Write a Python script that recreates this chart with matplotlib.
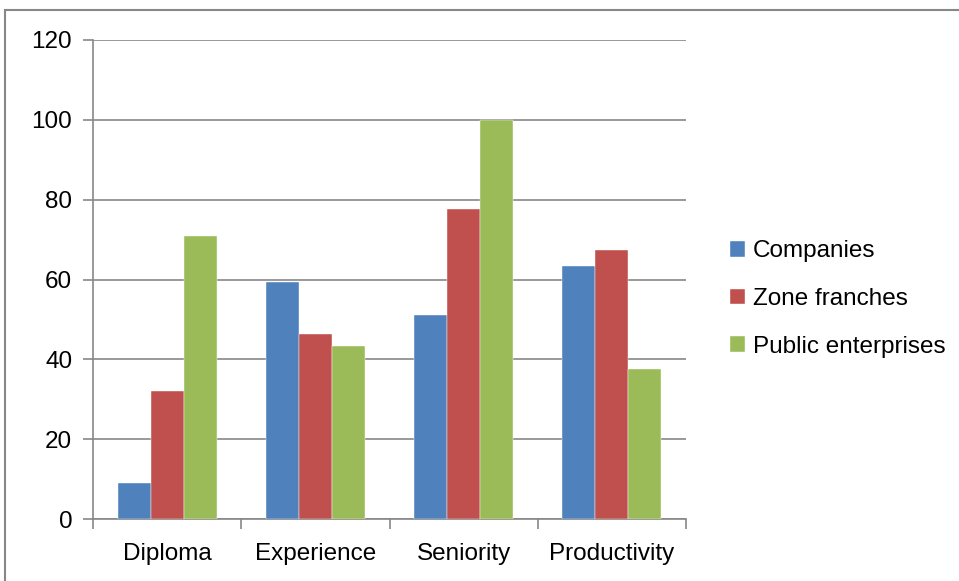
import matplotlib
matplotlib.use("Agg")
import matplotlib.pyplot as plt
import numpy as np
from matplotlib.patches import Rectangle

categories = ["Diploma", "Experience", "Seniority", "Productivity"]
series_names = ["Companies", "Zone franches", "Public enterprises"]
companies = [9.0, 59.4, 51.0, 63.5]
zone_franches = [32.1, 46.3, 77.7, 67.4]
public_enterprises = [71.0, 43.3, 100.0, 37.6]
colors = ["#4F81BD", "#C0504D", "#9BBB59"]
yticks = [0, 20, 40, 60, 80, 100, 120]

W, H = 959, 581
fig = plt.figure(figsize=(W/100, H/100), dpi=100)
ax = fig.add_axes([93/W, 1-519/H, (686-93)/W, (519-40)/H])

font = "Liberation Sans"
fs = 17.5
x = np.arange(len(categories))
bw = 1/4.5
for i, (vals, c, name) in enumerate(zip([companies, zone_franches, public_enterprises], colors, series_names)):
    ax.bar(x + (i-1)*bw, vals, width=bw, color=c, label=name, zorder=3,
           edgecolor="white", linewidth=0.3)

ax.set_xlim(-0.5, len(categories)-0.5)
ax.set_ylim(0, 120)
ax.set_yticks(yticks)
ax.set_yticklabels([str(v) for v in yticks], fontsize=fs, family=font)
ax.yaxis.grid(True, color="#878787", linewidth=1.2, zorder=0)
ax.set_xticks(x)
ax.set_xticklabels(categories, fontsize=fs, family=font)
ax.tick_params(axis="x", length=0, pad=17)
ax.tick_params(axis="y", length=7, color="#878787", width=1.2, pad=8)
ax.set_xticks(np.arange(-0.5, len(categories), 1), minor=True)
ax.tick_params(axis="x", which="minor", length=7, color="#878787", width=1.2)
for s in ["top", "right"]:
    ax.spines[s].set_visible(False)
for s in ["left", "bottom"]:
    ax.spines[s].set_color("#878787")
    ax.spines[s].set_linewidth(1.2)

handles, labels = ax.get_legend_handles_labels()
fig.legend(handles, labels, loc="center left", bbox_to_anchor=(708/W, 1-299/H),
           frameon=False, prop={"family": font, "size": fs},
           handlelength=0.62, handleheight=0.62, handletextpad=0.33, labelspacing=1.05)

fig.patches.append(Rectangle((5/W, -0.1), 1.2, 1.1-10/H, transform=fig.transFigure,
                             fill=False, edgecolor="#878787", linewidth=1.5))
fig.savefig("out.png", dpi=100)
